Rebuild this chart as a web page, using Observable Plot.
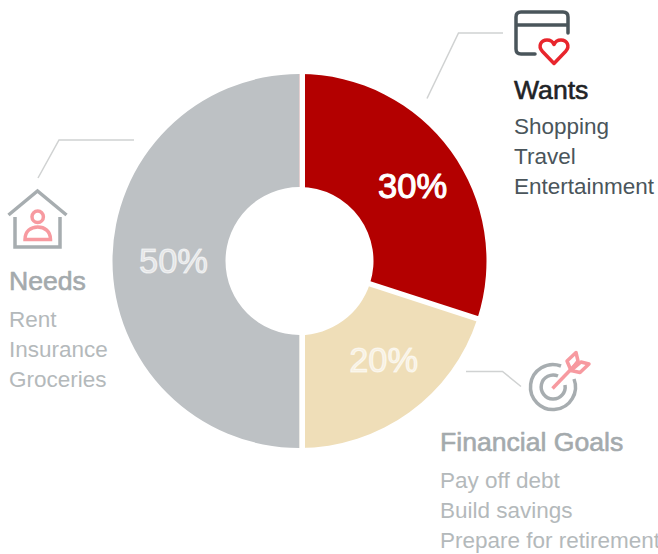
<!DOCTYPE html>
<html>
<head>
<meta charset="utf-8">
<style>
  html, body { margin: 0; padding: 0; background: #fff; }
</style>
<script src="https://cdn.jsdelivr.net/npm/d3@7"></script>
<script src="https://cdn.jsdelivr.net/npm/@observablehq/plot@0.6"></script>
</head>
<body>
<div id="chart"></div>
<script>
// Budget split, clockwise from twelve o'clock.
const categories = ["Wants", "Financial Goals", "Needs"];
const shares = [30, 20, 50];
const sliceColours = ["#b30000", "#efdeb8", "#bdc1c4"];

// Examples listed under each category heading.
const wantsItems = ["Shopping", "Travel", "Entertainment"];
const goalsItems = ["Pay off debt", "Build savings", "Prepare for retirement"];
const needsItems = ["Rent", "Insurance", "Groceries"];

const budget = categories.map((name, i) => ({name, share: shares[i]}));

const width = 658;
const height = 554;
const fontFamily = "'Liberation Sans', Helvetica, Arial, sans-serif";

// Donut geometry.
const cx = 299.5;
const cy = 261;
const outerRadius = 187;
const innerRadius = 74;
const labelRadius = 130.5;
const gapWidth = 5.5;

// The x scale maps percentages onto angles; this render swaps the stacked rects for ring sectors.
function renderSectors(index, scales, values) {
  const g = d3.create("svg:g").attr("transform", `translate(${cx},${cy})`);
  const arc = d3.arc().innerRadius(innerRadius).outerRadius(outerRadius);
  for (const i of index) {
    g.append("path")
      .attr("d", arc({startAngle: values.x1[i], endAngle: values.x2[i]}))
      .attr("fill", values.fill[i]);
  }
  // White gaps: the vertical one sits just right of the centre line.
  for (const i of index) {
    const angle = values.x1[i];
    const vertical = Math.abs(Math.sin(angle)) < 1e-6;
    const dx = vertical ? gapWidth / 2 : 0;
    g.append("line")
      .attr("x1", dx + Math.sin(angle) * (innerRadius - 2))
      .attr("y1", -Math.cos(angle) * (innerRadius - 2))
      .attr("x2", dx + Math.sin(angle) * (outerRadius + 2))
      .attr("y2", -Math.cos(angle) * (outerRadius + 2))
      .attr("stroke", "#fff")
      .attr("stroke-width", gapWidth);
  }
  return g.node();
}

// Moves each stacked midpoint to its polar position on the ring.
const labelNudge = [[7, 2], [7, -6], [4, 0]];
function renderPercentLabels(index, scales, values, dimensions, context, next) {
  const X = Array.from(values.x, a => a);
  const Y = new Array(X.length);
  for (const i of index) {
    const a = values.x[i];
    X[i] = cx + Math.sin(a) * labelRadius + labelNudge[i][0];
    Y[i] = cy - Math.cos(a) * labelRadius + labelNudge[i][1];
  }
  return next(index, scales, {...values, x: X, y: Y}, dimensions, context);
}

// Thin connector lines and the three pictograms.
function renderIcons() {
  const g = d3.create("svg:g").attr("fill", "none");
  const path = (d, stroke, strokeWidth, opts = {}) =>
    g.append("path")
      .attr("d", d)
      .attr("stroke", stroke)
      .attr("stroke-width", strokeWidth)
      .attr("stroke-linecap", opts.cap || "butt")
      .attr("stroke-linejoin", opts.join || "miter");

  const leader = "#d0d2d2";
  path("M427,98.5L458.5,33H503", leader, 1.5);
  path("M38,178L59,140H134", leader, 1.5);
  path("M466,371.5H502.5L521,386.5", leader, 1.5);

  // Card with heart
  path("M535,54H521Q516,54 516,49V17Q516,12 521,12H563Q568,12 568,17V33M516,25H568", "#4a555b", 3.5, {cap: "round"});
  path("M554,63.5L542.5,51.5C537.5,46 541,40 547,40C550.5,40 553,42 554,44.5C555,42 557.5,40 561,40C567,40 570.5,46 565.5,51.5Z", "#e8262d", 3.5, {join: "round"});

  // House with person
  path("M8.5,215L37.5,191L66.5,215", "#a7adb0", 3.5);
  path("M15,217V247H60V217", "#a7adb0", 3.5);
  path("M37.7,222.5a5.7,5.7 0 1 0 0,-11.4a5.7,5.7 0 1 0 0,11.4Z", "#f79aa0", 3.5);
  path("M25,239.5C25,231 31,227 37.7,227C44.5,227 50.5,231 50.5,239.5Z", "#f79aa0", 3.5);

  // Target with arrow
  path("M561,366A22.5,22.5 0 1 0 574,379", "#a7adb0", 3.5);
  path("M558,376A12,12 0 1 0 565,385", "#a7adb0", 3.5);
  path("M552.5,388.5L578,362", "#f79aa0", 3.5);
  path("M571,370.5L567,361L576,352.5L578,361Z", "#f79aa0", 3.5, {join: "round"});
  path("M571,370.5L580,372.5L589,364L581,362Z", "#f79aa0", 3.5, {join: "round"});
  return g.node();
}

// Heading plus its list, positioned in pixels from the frame's corner.
function caption(title, items, x, titleTop, listTop, titleColour, listColour) {
  return [
    Plot.text([title], {
      text: d => d,
      frameAnchor: "top-left",
      dx: x,
      dy: titleTop,
      lineAnchor: "top",
      textAnchor: "start",
      fontFamily,
      fontSize: 26.6,
      fill: titleColour,
      stroke: titleColour,
      strokeWidth: 0.6
    }),
    Plot.text([items.join("\n")], {
      text: d => d,
      frameAnchor: "top-left",
      dx: x,
      dy: listTop,
      lineAnchor: "top",
      textAnchor: "start",
      lineHeight: 30 / 22.5,
      fontFamily,
      fontSize: 22.5,
      fill: listColour
    })
  ];
}

const chart = Plot.plot({
  width,
  height,
  margin: 0,
  style: {background: "#fff"},
  x: {domain: [0, 100], range: [0, 2 * Math.PI], axis: null},
  color: {domain: categories, range: sliceColours},
  marks: [
    Plot.barX(budget, Plot.stackX({
      x: "share",
      fill: "name",
      render: renderSectors
    })),
    Plot.text(budget, Plot.stackX({
      x: "share",
      text: d => `${d.share}%`,
      render: renderPercentLabels,
      fontFamily,
      fontSize: 34.5,
      fill: "#fff",
      stroke: "#fff",
      strokeWidth: 1.1,
      fillOpacity: d => d.share === 30 ? 1 : 0.62,
      strokeOpacity: d => d.share === 30 ? 1 : 0.62
    })),
    renderIcons,
    ...caption("Wants", wantsItems, 513.5, 80, 112, "#1f2326", "#4a555b"),
    ...caption("Needs", needsItems, 8.5, 271, 305, "#a4aaad", "#b4b9bb"),
    ...caption("Financial Goals", goalsItems, 439.5, 431.5, 466, "#a4aaad", "#b4b9bb")
  ]
});

document.getElementById("chart").appendChild(chart);
</script>
</body>
</html>
